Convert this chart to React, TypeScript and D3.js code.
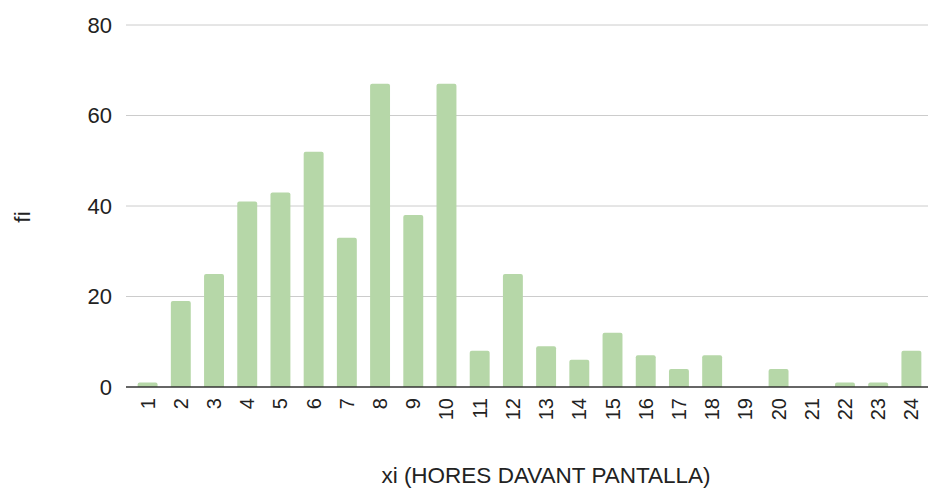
import React, { useEffect, useRef } from "react";
import * as d3 from "d3";

// Hours in front of screen (xi) and frequency (fi)
const categories: string[] = Array.from({ length: 24 }, (_, i) => String(i + 1));
const frequencies: number[] = [1, 19, 25, 41, 43, 52, 33, 67, 38, 67, 8, 25, 9, 6, 12, 7, 4, 7, 0, 4, 0, 1, 1, 8];
const yTicks: number[] = [0, 20, 40, 60, 80];

const App = () => {
  const svgRef = useRef<SVGSVGElement>(null);

  useEffect(() => {
    const width = 928;
    const height = 491;
    const margin = { top: 25, right: 0, bottom: 104, left: 131 };
    const font = "'Liberation Sans', Arial, sans-serif";

    const svg = d3.select(svgRef.current);
    svg.selectAll("*").remove();

    const x = d3
      .scaleBand<string>()
      .domain(categories)
      .range([margin.left, width - margin.right])
      .paddingInner(0.4)
      .paddingOuter(0.2);

    const y = d3
      .scaleLinear()
      .domain([0, 80])
      .range([height - margin.bottom, margin.top]);

    // gridlines
    svg
      .append("g")
      .selectAll("line")
      .data(yTicks.filter((d) => d !== 0))
      .join("line")
      .attr("x1", 126)
      .attr("x2", width)
      .attr("y1", (d) => y(d))
      .attr("y2", (d) => y(d))
      .attr("stroke", "#cccccc")
      .attr("stroke-width", 1);

    // y tick labels
    svg
      .append("g")
      .selectAll("text")
      .data(yTicks)
      .join("text")
      .attr("x", 112)
      .attr("y", (d) => y(d))
      .attr("dy", "0.35em")
      .attr("text-anchor", "end")
      .attr("font-family", font)
      .attr("font-size", 22)
      .attr("fill", "#222")
      .text((d) => d);

    // bars with rounded top corners
    const r = 2;
    svg
      .append("g")
      .selectAll("path")
      .data(frequencies.map((v, i) => ({ k: categories[i], v })))
      .join("path")
      .attr("fill", "#b6d7a8")
      .attr("d", (d) => {
        if (d.v === 0) return "";
        const x0 = x(d.k)!;
        const w = x.bandwidth();
        const yt = y(d.v);
        const yb = y(0);
        const rr = Math.min(r, (yb - yt) / 2);
        return `M${x0},${yb}V${yt + rr}Q${x0},${yt} ${x0 + rr},${yt}H${x0 + w - rr}Q${x0 + w},${yt} ${x0 + w},${yt + rr}V${yb}Z`;
      });

    // baseline
    svg
      .append("line")
      .attr("x1", 126)
      .attr("x2", width)
      .attr("y1", y(0))
      .attr("y2", y(0))
      .attr("stroke", "#333333")
      .attr("stroke-width", 1.3);

    // x tick labels (rotated)
    svg
      .append("g")
      .selectAll("text")
      .data(categories)
      .join("text")
      .attr("transform", (d) => `translate(${x(d)! + x.bandwidth() / 2},${y(0) + 11}) rotate(-90)`)
      .attr("dy", "0.35em")
      .attr("text-anchor", "end")
      .attr("font-family", font)
      .attr("font-size", 20)
      .attr("fill", "#222")
      .text((d) => d);

    // axis titles
    svg
      .append("text")
      .attr("x", 546)
      .attr("y", 483)
      .attr("text-anchor", "middle")
      .attr("font-family", font)
      .attr("font-size", 22.5)
      .attr("fill", "#222")
      .text("xi (HORES DAVANT PANTALLA)");

    svg
      .append("text")
      .attr("transform", `translate(22,217) rotate(-90)`)
      .attr("dy", "0.35em")
      .attr("text-anchor", "middle")
      .attr("font-family", font)
      .attr("font-size", 22.5)
      .attr("fill", "#222")
      .text("fi");
  }, []);

  return (
    <svg
      ref={svgRef}
      width={928}
      height={491}
      style={{ position: "absolute", left: 0, top: 0, background: "#fff" }}
    ></svg>
  );
};

export default App;
